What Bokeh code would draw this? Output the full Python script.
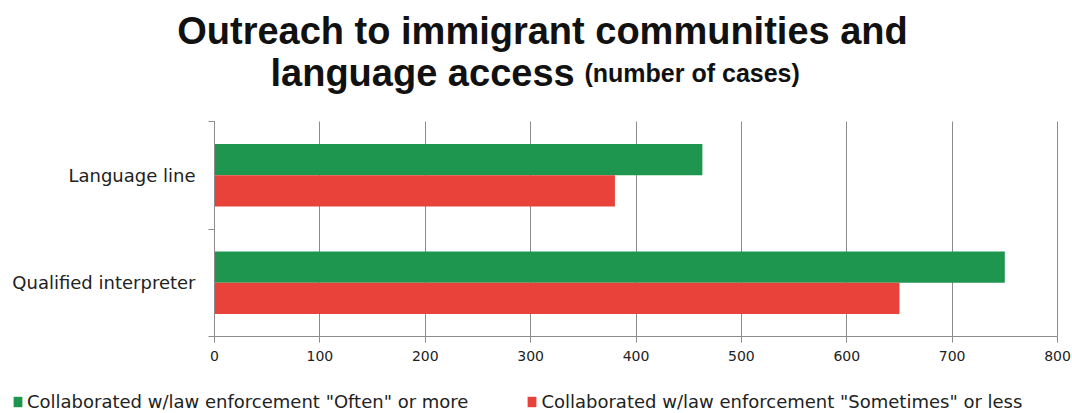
from bokeh.plotting import figure
from bokeh.models import (Range1d, FixedTicker, Label, Legend, LegendItem, ColumnDataSource,
                          LinearAxis, Grid)
from bokeh.transform import dodge
from bokeh.embed import file_html
from bokeh.resources import INLINE

# ---- data ----
categories = ["Language line", "Qualified interpreter"]
often = [463, 750]
sometimes = [380, 650]
series_names = ['Collaborated w/law enforcement "Often" or more',
                'Collaborated w/law enforcement "Sometimes" or less']
x_ticks = [0, 100, 200, 300, 400, 500, 600, 700, 800]
title_line1 = "Outreach to immigrant communities and"
title_line2a = "language access"
title_line2b = "(number of cases)"

# ---- style / layout ----
GREEN = "#1e9650"
RED = "#e8423a"
GRID = "#8c8c8c"
SMALL_FONT = "DejaVu Sans"
TITLE_FONT = "Liberation Sans"
W, H = 1072, 413
PLOT_L, PLOT_R, PLOT_T, PLOT_B = 214, 1057, 121, 336   # pixel box of the bar area

n = len(categories)
centers = [n - i - 0.5 for i in range(n)]
bar_h = 0.29

xmin, xmax = x_ticks[0], x_ticks[-1]
xs = (PLOT_R - PLOT_L) / (xmax - xmin)
ys = (PLOT_B - PLOT_T) / n
x_range = Range1d(xmin - PLOT_L / xs, xmax + (W - PLOT_R) / xs)
y_range = Range1d(0 - (H - PLOT_B) / ys, n + PLOT_T / ys)

src = ColumnDataSource(dict(cat=categories, center=centers, often=often, sometimes=sometimes))

p = figure(width=W, height=H, output_backend="svg", toolbar_location=None,
           x_range=x_range, y_range=y_range, x_axis_type=None, y_axis_type=None,
           min_border=0)
p.outline_line_color = None
p.background_fill_color = "white"
p.border_fill_color = "white"

# gridlines (vertical only), limited to the bar area
p.add_layout(Grid(dimension=0, ticker=FixedTicker(ticks=x_ticks), bounds=(xmin, xmax),
                  cross_bounds=(0, n), grid_line_color=GRID))

r1 = p.hbar(y=dodge("center", bar_h / 2), right="often", left=0, height=bar_h, source=src,
            fill_color=GREEN, line_color=None)
r2 = p.hbar(y=dodge("center", -bar_h / 2), right="sometimes", left=0, height=bar_h, source=src,
            fill_color=RED, line_color=None)

# x axis
xa = LinearAxis(fixed_location=0, bounds=(xmin, xmax),
                ticker=FixedTicker(ticks=x_ticks, minor_ticks=[]))
xa.axis_line_color = GRID
xa.major_tick_line_color = GRID
xa.major_tick_out = 6
xa.major_tick_in = 0
xa.minor_tick_line_color = None
xa.major_label_standoff = 8
xa.major_label_text_font = SMALL_FONT
xa.major_label_text_font_size = "14px"
xa.major_label_text_color = "#222222"
p.add_layout(xa, "below")

# y axis (category labels centred in bands, ticks at band edges)
ya = LinearAxis(fixed_location=0, bounds=(0, n),
                ticker=FixedTicker(ticks=centers, minor_ticks=list(range(n + 1))))
ya.major_label_overrides = {c: cat for c, cat in zip(centers, categories)}
ya.axis_line_color = GRID
ya.major_tick_line_color = None
ya.major_tick_out = 0
ya.major_tick_in = 0
ya.minor_tick_line_color = GRID
ya.minor_tick_out = 6
ya.minor_tick_in = 0
ya.major_label_standoff = 13
ya.major_label_text_font = SMALL_FONT
ya.major_label_text_font_size = "18px"
ya.major_label_text_color = "#222222"
p.add_layout(ya, "left")

# title (two lines, second with smaller suffix) in screen px from bottom-left
p.add_layout(Label(x=542, y=H - 30, x_units="screen", y_units="screen",
                   text=title_line1, text_align="center",
                   text_baseline="alphabetic", text_font=TITLE_FONT,
                   text_font_style="bold", text_font_size="38px", text_color="#111111"))
p.add_layout(Label(x=270, y=H - 72, x_units="screen", y_units="screen",
                   text=title_line2a, text_align="left",
                   text_baseline="alphabetic", text_font=TITLE_FONT,
                   text_font_style="bold", text_font_size="38px", text_color="#111111"))
p.add_layout(Label(x=584, y=H - 72, x_units="screen", y_units="screen",
                   text=title_line2b, text_align="left",
                   text_baseline="alphabetic", text_font=TITLE_FONT,
                   text_font_style="bold", text_font_size="25px", text_color="#111111"))

legend = Legend(items=[LegendItem(label=series_names[0], renderers=[r1]),
                       LegendItem(label=series_names[1], renderers=[r2])],
                orientation="horizontal", location=(12, 1),
                padding=0, margin=0, spacing=58, label_standoff=4,
                glyph_width=11, glyph_height=13, label_height=16,
                label_text_font=SMALL_FONT, label_text_font_size="18px",
                label_text_color="#222222", background_fill_alpha=0, border_line_color=None)
p.add_layout(legend, "center")

open("out.html", "w").write(file_html(p, INLINE))
